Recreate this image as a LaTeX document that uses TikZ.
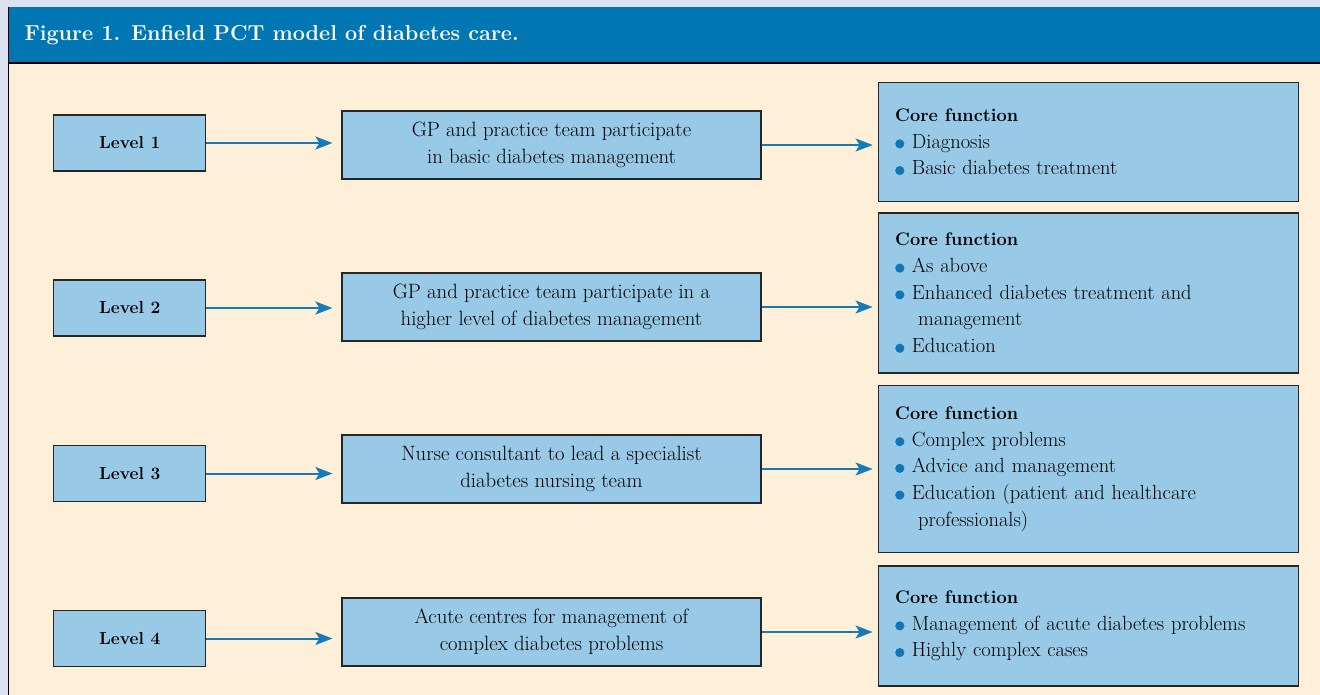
\documentclass[tikz,border=0pt]{standalone}
\usepackage{fontspec}
\usepackage{xcolor}
\usepackage{tikz}
\usetikzlibrary{arrows.meta,positioning}

\definecolor{pagegrey}{RGB}{220,226,240}
\definecolor{titleblue}{RGB}{0,119,179}
\definecolor{cream}{RGB}{254,240,216}
\definecolor{boxblue}{RGB}{152,201,231}
\definecolor{arrowblue}{RGB}{20,122,184}
\definecolor{dotblue}{RGB}{16,118,182}

% blue bullet for the core function lists
\newcommand{\cfdot}{\tikz[baseline=-0.5ex]\fill[dotblue] (0,0) circle (4.6pt);\hspace{7.5pt}}
\newcommand{\cfhead}{{\fontsize{18.2}{26.7}\selectfont\bfseries Core function}}

\begin{document}
\begin{tikzpicture}[
    x=1pt, y=-1pt,
    lvlbox/.style={draw=black!85, line width=1.2pt, fill=boxblue, minimum width=152pt, minimum height=56pt, font=\fontsize{17.4}{20}\selectfont\bfseries},
    midbox/.style={draw=black!85, line width=1.2pt, fill=boxblue, minimum width=419pt, minimum height=68pt, align=center, font=\fontsize{20.7}{27}\selectfont},
    corebox/.style={draw=black!85, line width=1.2pt, fill=boxblue, text width=386pt, inner xsep=17pt, align=left, font=\fontsize{20.5}{26.7}\selectfont},
    flow/.style={-{Stealth[length=17pt,width=13pt,inset=4pt]}, line width=2pt, draw=arrowblue}
]
    \useasboundingbox (0,0) rectangle (1320,695);
    \fill[pagegrey] (0,0) rectangle (1320,695);
    \fill[titleblue] (8,7) rectangle (1320,63);
    \fill[cream] (8,64) rectangle (1320,695);
    \draw[line width=2pt] (8,63) -- (1320,63);
    \draw[line width=1pt] (8.5,7) -- (8.5,695);

    \node[anchor=west, text=white, font=\fontsize{21.6}{26}\selectfont\bfseries] (title) at (21,35) {Figure 1. Enfield PCT model of diabetes care.};

    % level 1
    \node[midbox] (m1) at (551.5,145) {GP and practice team participate\\in basic diabetes management};
    \node[lvlbox, left=135pt of m1, yshift=2pt] (l1) {Level 1};
    \node[corebox, minimum height=119pt, right=116pt of m1, yshift=3pt] (c1) {\cfhead\\
        \cfdot Diagnosis\\
        \cfdot Basic diabetes treatment};

    % level 2
    \node[midbox] (m2) at (551.5,307) {GP and practice team participate in a\\higher level of diabetes management};
    \node[lvlbox, left=135pt of m2, yshift=-1pt] (l2) {Level 2};
    \node[corebox, minimum height=160pt, right=116pt of m2, yshift=14pt] (c2) {\cfhead\\
        \cfdot As above\\
        \cfdot Enhanced diabetes treatment and\\
        \hspace*{23pt}management\\
        \cfdot Education};

    % level 3
    \node[midbox] (m3) at (551.5,469) {Nurse consultant to lead a specialist\\diabetes nursing team};
    \node[lvlbox, left=135pt of m3, yshift=-4.5pt] (l3) {Level 3};
    \node[corebox, minimum height=167pt, right=116pt of m3] (c3) {\cfhead\\
        \cfdot Complex problems\\
        \cfdot Advice and management\\
        \cfdot Education (patient and healthcare\\
        \hspace*{23pt}professionals)};

    % level 4
    \node[midbox] (m4) at (551.5,632) {Acute centres for management of\\complex diabetes problems};
    \node[lvlbox, left=135pt of m4, yshift=-6.5pt] (l4) {Level 4};
    \node[corebox, minimum height=120pt, right=116pt of m4, yshift=6pt] (c4) {\cfhead\\
        \cfdot Management of acute diabetes problems\\
        \cfdot Highly complex cases};

    \draw[flow, shorten >=9pt] (l1.east) -- (l1.east -| m1.west);
    \draw[flow, shorten >=5pt] (m1.east) -- (m1.east -| c1.west);
    \draw[flow, shorten >=9pt] (l2.east) -- (l2.east -| m2.west);
    \draw[flow, shorten >=5pt] (m2.east) -- (m2.east -| c2.west);
    \draw[flow, shorten >=9pt] (l3.east) -- (l3.east -| m3.west);
    \draw[flow, shorten >=5pt] (m3.east) -- (m3.east -| c3.west);
    \draw[flow, shorten >=9pt] (l4.east) -- (l4.east -| m4.west);
    \draw[flow, shorten >=5pt] (m4.east) -- (m4.east -| c4.west);
\end{tikzpicture}
\end{document}
